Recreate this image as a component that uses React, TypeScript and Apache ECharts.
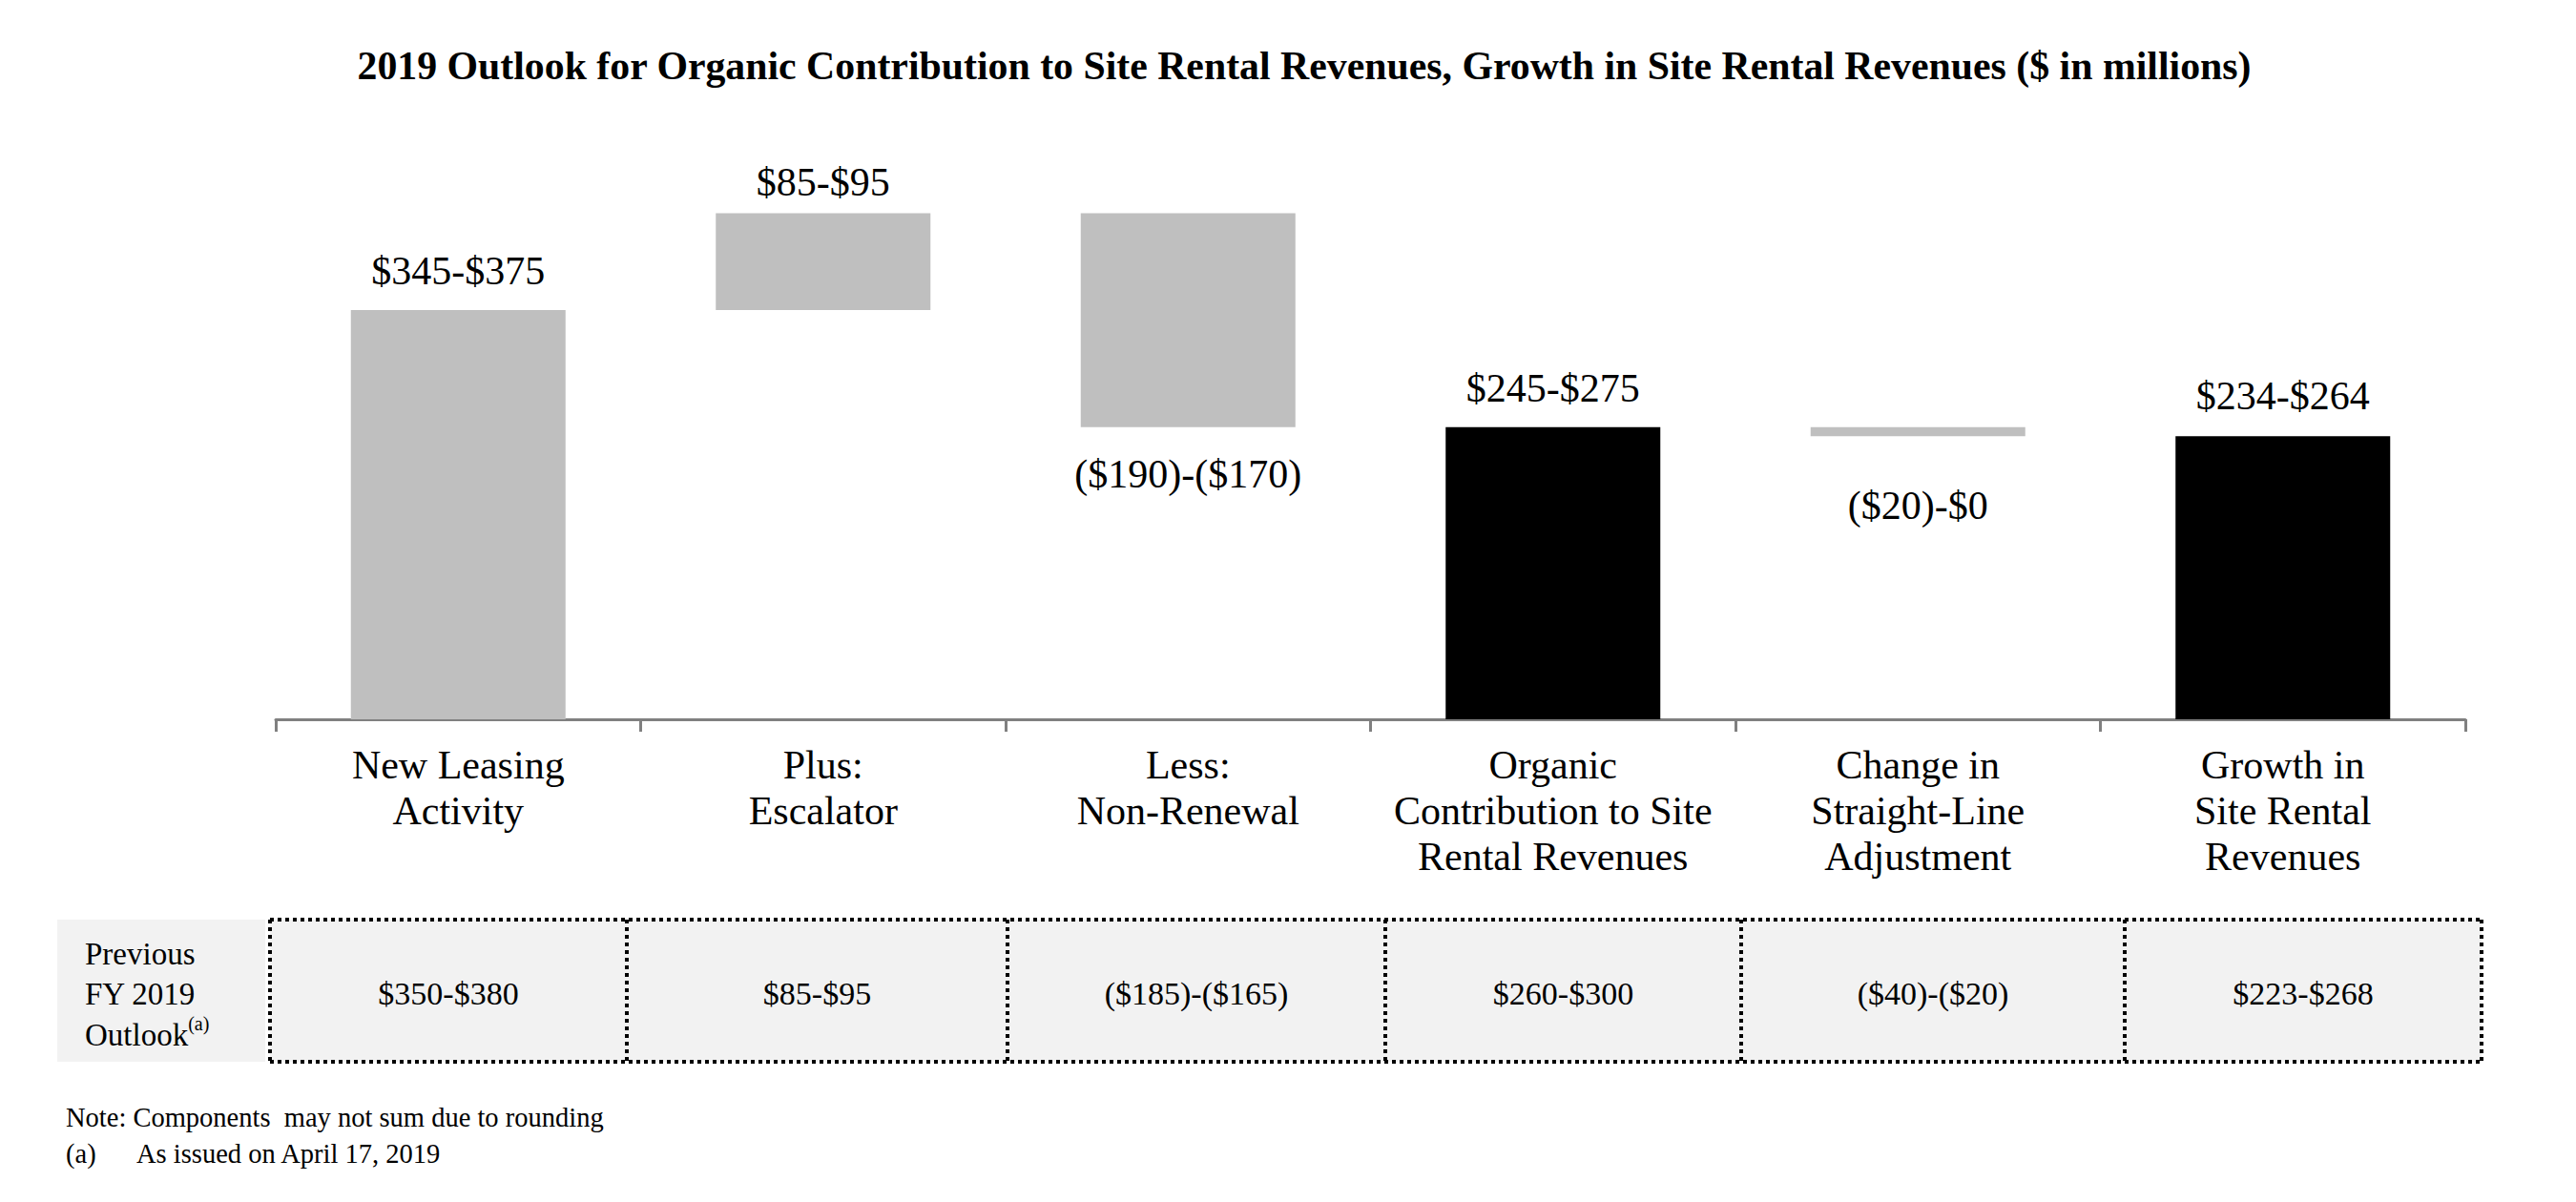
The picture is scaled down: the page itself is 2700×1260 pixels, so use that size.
import React, { useEffect, useRef } from "react";
import * as echarts from "echarts";

const categories = [
  "New Leasing\nActivity",
  "Plus:\nEscalator",
  "Less:\nNon-Renewal",
  "Organic\nContribution to Site\nRental Revenues",
  "Change in\nStraight-Line\nAdjustment",
  "Growth in\nSite Rental\nRevenues",
];
const rangeLabels = ["$345-$375", "$85-$95", "($190)-($170)", "$245-$275", "($20)-$0", "$234-$264"];
const barValues = [360, 85, -188, 257, -8, 249];
const isTotal = [false, false, false, true, false, true];
const previousOutlook = ["$350-$380", "$85-$95", "($185)-($165)", "$260-$300", "($40)-($20)", "$223-$268"];
const titleText =
  "2019 Outlook for Organic Contribution to Site Rental Revenues, Growth in Site Rental Revenues ($ in millions)";
const noteLines = ["Note: Components  may not sum due to rounding", "As issued on April 17, 2019"];

const SERIF = "'Liberation Serif', 'Times New Roman', serif";
const GREY = "#BFBFBF";

export default function App() {
  const ref = useRef<HTMLDivElement>(null);
  useEffect(() => {
    if (!ref.current) return;
    const chart = echarts.init(ref.current, undefined, { renderer: "svg" });

    const baseData: number[] = [];
    const barData: any[] = [];
    let running = 0;
    const dists = [20, 12, 28, 20, 52, 21];
    barValues.forEach((v, i) => {
      let base = 0;
      let h = 0;
      if (isTotal[i]) {
        base = 0;
        h = v;
        running = v;
      } else if (v >= 0) {
        base = running;
        h = v;
        running += v;
      } else {
        base = running + v;
        h = -v;
        running += v;
      }
      baseData.push(base);
      const below = v < 0;
      barData.push({
        value: h,
        itemStyle: { color: isTotal[i] ? "#000000" : GREY },
        label: {
          show: true,
          position: below ? "bottom" : "top",
          distance: dists[i],
          formatter: rangeLabels[i],
          fontFamily: SERIF,
          fontSize: 42,
          color: "#000",
        },
      });
    });

    // table geometry
    const colX = [283, 657, 1056, 1452, 1825, 2227, 2601];
    const tTop = 964;
    const tBot = 1113;
    const rowY = 1041;
    const dotted = { stroke: "#000", lineWidth: 4, lineDash: [4, 4] };
    const graphics: any[] = [
      {
        type: "text",
        x: 1367,
        y: 69,
        style: {
          text: titleText,
          fontFamily: SERIF,
          fontSize: 41.8,
          fontWeight: "bold",
          fill: "#000",
          align: "center",
          verticalAlign: "middle",
        },
      },
      { type: "rect", shape: { x: 60, y: tTop, width: 218, height: tBot - tTop }, style: { fill: "#F2F2F2" } },
      {
        type: "rect",
        shape: { x: colX[0], y: tTop, width: colX[6] - colX[0], height: tBot - tTop },
        style: { fill: "#F2F2F2" },
      },
      {
        type: "text",
        x: 89,
        y: 1042,
        style: {
          text: "Previous\nFY 2019\nOutlook{sup|(a)}",
          fontFamily: SERIF,
          fontSize: 33,
          lineHeight: 42.5,
          fill: "#000",
          align: "left",
          verticalAlign: "middle",
          rich: {
            sup: { fontFamily: SERIF, fontSize: 20, verticalAlign: "top", padding: [0, 0, 14, 0], fill: "#000" },
          },
        },
      },
      { type: "line", shape: { x1: colX[0], y1: tTop, x2: colX[6], y2: tTop }, style: dotted },
      { type: "line", shape: { x1: colX[0], y1: tBot, x2: colX[6], y2: tBot }, style: dotted },
    ];
    colX.forEach((x) => {
      graphics.push({ type: "line", shape: { x1: x, y1: tTop, x2: x, y2: tBot }, style: dotted });
    });
    previousOutlook.forEach((t, i) => {
      graphics.push({
        type: "text",
        x: (colX[i] + colX[i + 1]) / 2,
        y: rowY,
        style: {
          text: t,
          fontFamily: SERIF,
          fontSize: 34,
          fill: "#000",
          align: "center",
          verticalAlign: "middle",
        },
      });
    });
    graphics.push({
      type: "text",
      x: 69,
      y: 1171,
      style: { text: noteLines[0], fontFamily: SERIF, fontSize: 28.5, fill: "#000", verticalAlign: "middle" },
    });
    graphics.push({
      type: "text",
      x: 69,
      y: 1209,
      style: { text: "(a)", fontFamily: SERIF, fontSize: 28.5, fill: "#000", verticalAlign: "middle" },
    });
    graphics.push({
      type: "text",
      x: 143,
      y: 1209,
      style: { text: noteLines[1], fontFamily: SERIF, fontSize: 28.5, fill: "#000", verticalAlign: "middle" },
    });

    chart.setOption({
      animation: false,
      backgroundColor: "#fff",
      grid: { left: 289, right: 116, top: 158, bottom: 1260 - 754 },
      xAxis: {
        type: "category",
        data: categories,
        axisLine: { show: true, lineStyle: { color: "#808080", width: 3 } },
        axisTick: { show: true, length: 13, lineStyle: { color: "#808080", width: 3 } },
        axisLabel: {
          margin: 24,
          fontFamily: SERIF,
          fontSize: 42,
          lineHeight: 48,
          color: "#000",
          interval: 0,
          align: "center",
        },
      },
      yAxis: { type: "value", min: 0, max: 500, show: false, splitLine: { show: false } },
      series: [
        {
          type: "bar",
          stack: "w",
          data: baseData,
          barWidth: 225,
          itemStyle: { color: "rgba(0,0,0,0)" },
          emphasis: { disabled: true },
          silent: true,
        },
        {
          type: "bar",
          stack: "w",
          data: barData,
          barWidth: 225,
        },
      ],
      graphic: graphics,
    });
    return () => chart.dispose();
  }, []);
  return (
    <div
      ref={ref}
      style={{ position: "absolute", left: 0, top: 0, width: 2700, height: 1260, background: "#fff" }}
    />
  );
}
